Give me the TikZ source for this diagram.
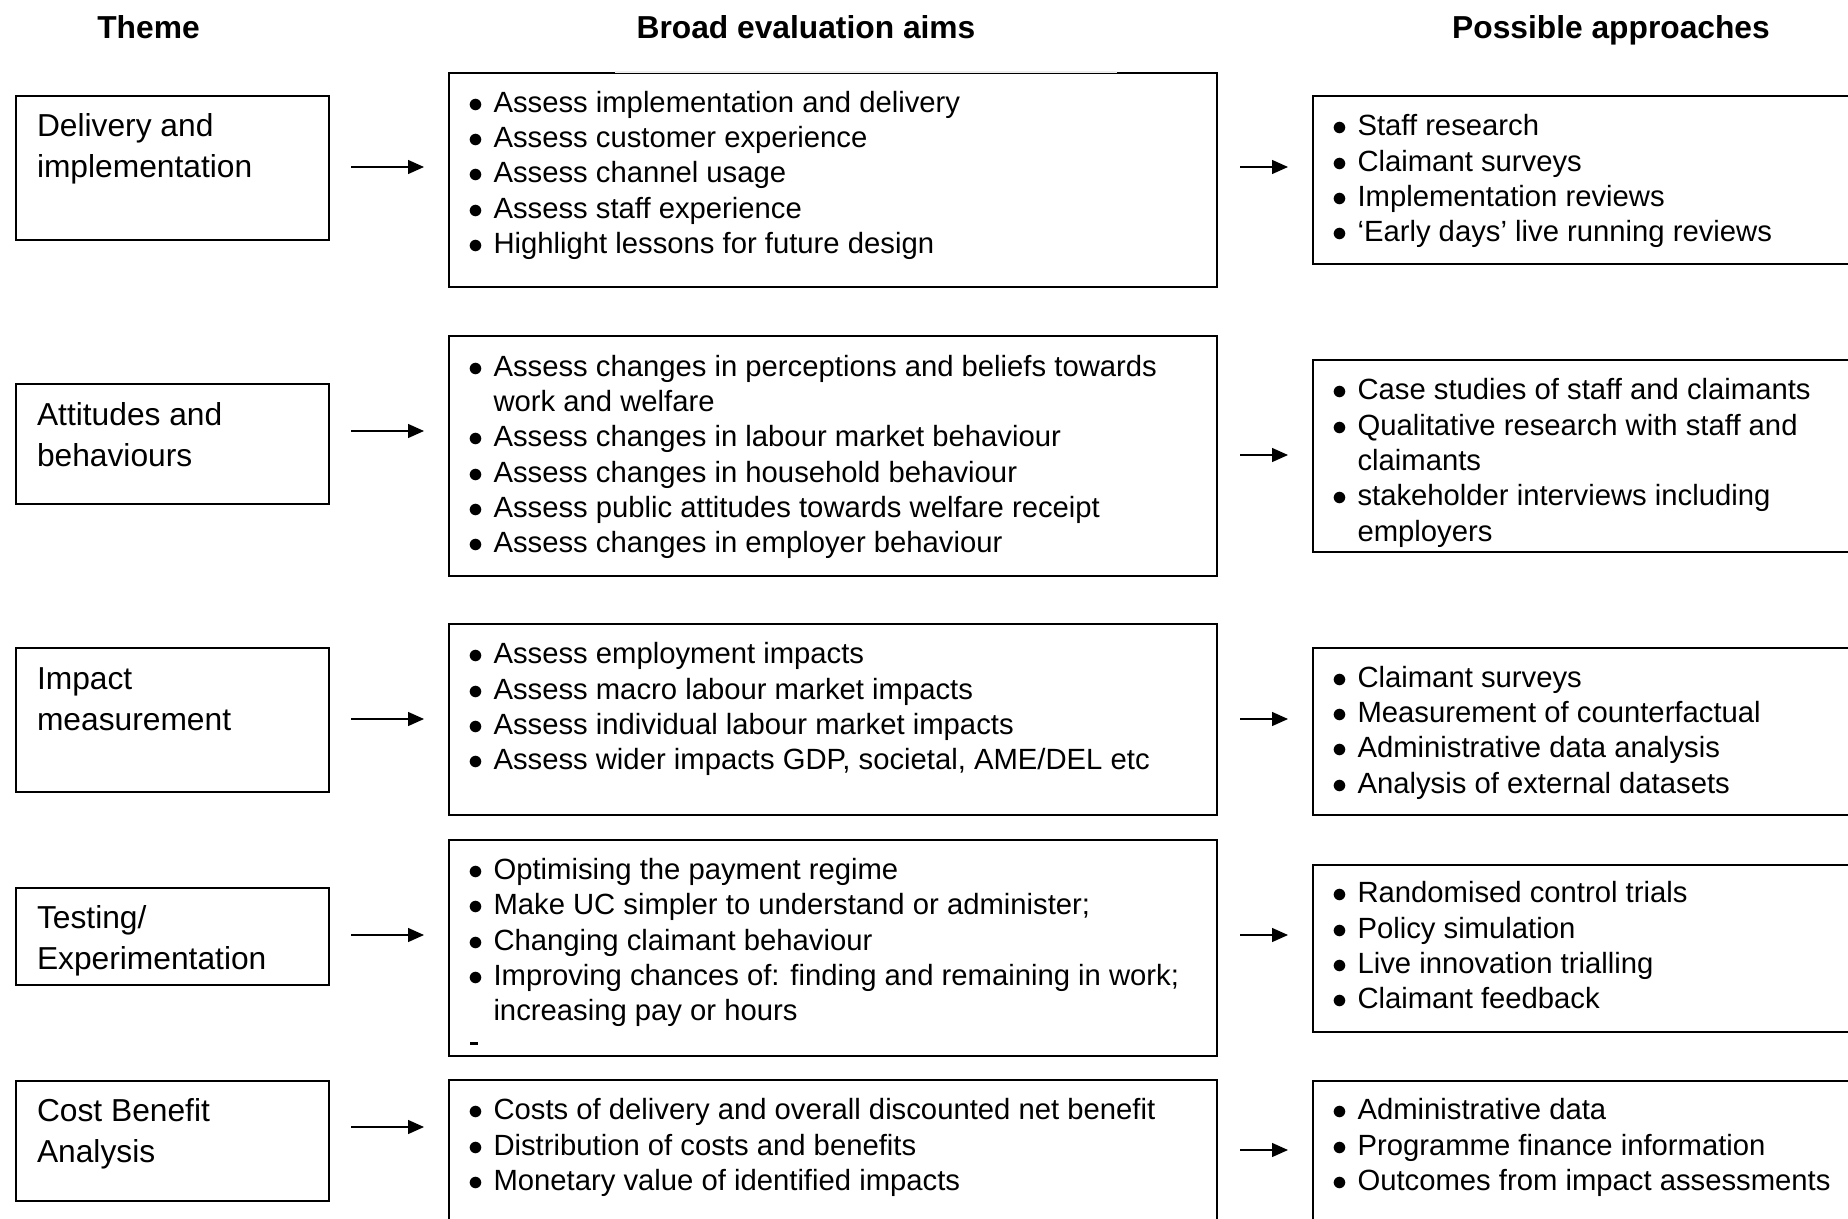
\documentclass[tikz,border=0pt]{standalone}
\usepackage{fontspec}
\setmainfont{Liberation Sans}
\usetikzlibrary{arrows.meta,positioning,calc}
\newcommand{\itm}{\makebox[10.2pt][l]{$\bullet$}}
\newcommand{\cnt}{\hspace*{10.2pt}}
\newcommand{\fstrut}{\rule{0pt}{10pt}}
\tikzset{
  frame/.style={draw=black, line width=0.8pt, anchor=north west, inner sep=0pt},
  themetxt/.style={anchor=north west, inner sep=0pt, align=left,
                   font=\fontsize{12.7pt}{16.5pt}\selectfont, execute at begin node={\fstrut}},
  listtxt/.style={anchor=north west, inner sep=0pt, align=left,
                  font=\fontsize{11.7pt}{14.15pt}\selectfont, execute at begin node={\fstrut}},
  head/.style={anchor=base, inner sep=0pt, font=\fontsize{12.7pt}{15pt}\selectfont\bfseries},
  flow/.style={-{Triangle[length=6.4pt,width=5.6pt]}, line width=0.55pt},
}

\begin{document}
\begin{tikzpicture}[x=0.4pt,y=-0.4pt]
  \useasboundingbox[fill=white] (0,0) rectangle (1848,1219);
  % --- column headings ---
  \node[head] (hTheme) at (148.5,38.4) {Theme};
  \node[head] (hAims)  at (806,38.4)   {Broad evaluation aims};
  \node[head] (hAppr)  at (1611,38.4)  {Possible approaches};

  % --- frames ---
  \foreach \i/\y/\h in {1/95/144,2/383/120,3/647/144,4/887/97,5/1080/120}
    \node[frame, minimum width={313*0.4pt}, minimum height={\h*0.4pt}] (theme\i) at (15,\y) {};
  \foreach \i/\y/\h in {1/72/214,2/335/240,3/623/191,4/839/216,5/1079/190}
    \node[frame, minimum width={768*0.4pt}, minimum height={\h*0.4pt}] (aim\i) at (448,\y) {};
  \foreach \i/\y/\h in {1/95/168,2/359/192,3/647/167,4/864/167,5/1080/190}
    \node[frame, minimum width={600*0.4pt}, minimum height={\h*0.4pt}] (appr\i) at (1312,\y) {};
  % broken top edge of the first aims frame
  \draw[black!7, line width=1pt] (615,72) -- (1117,72);

  % --- themes ---
  \node[themetxt] (themetxt1) at ([shift={(21.5,18)}]theme1.north west) {Delivery and\\implementation};
  \node[themetxt] (themetxt2) at ([shift={(21.5,19)}]theme2.north west) {Attitudes and\\behaviours};
  \node[themetxt] (themetxt3) at ([shift={(21.5,20)}]theme3.north west) {Impact\\measurement};
  \node[themetxt] (themetxt4) at ([shift={(21.5,18)}]theme4.north west) {Testing/\\Experimentation};
  \node[themetxt] (themetxt5) at ([shift={(21.5,18)}]theme5.north west) {Cost Benefit\\Analysis};

  % --- aims ---
  \node[listtxt] (aimtxt1) at ([shift={(19.5,18.5)}]aim1.north west)
    {\itm Assess implementation and delivery\\ \itm Assess customer experience\\
     \itm Assess channel usage\\ \itm Assess staff experience\\
     \itm Highlight lessons for future design};
  \node[listtxt] (aimtxt2) at ([shift={(19.5,19.4)}]aim2.north west)
    {\itm Assess changes in perceptions and beliefs towards\\ \cnt work and welfare\\
     \itm Assess changes in labour market behaviour\\ \itm Assess changes in household behaviour\\
     \itm Assess public attitudes towards welfare receipt\\ \itm Assess changes in employer behaviour};
  \node[listtxt] (aimtxt3) at ([shift={(19.5,19)}]aim3.north west)
    {\itm Assess employment impacts\\ \itm Assess macro labour market impacts\\
     \itm Assess individual labour market impacts\\ \itm Assess wider impacts GDP, societal, AME/DEL etc};
  \node[listtxt] (aimtxt4) at ([shift={(19.5,18.6)}]aim4.north west)
    {\itm Optimising the payment regime\\ \itm Make UC simpler to understand or administer;\\
     \itm Changing claimant behaviour\\ \itm Improving chances of: finding and remaining in work;\\
     \cnt increasing pay or hours};
  \fill (470,1042) rectangle (478,1045);
  \node[listtxt] (aimtxt5) at ([shift={(19.5,19)}]aim5.north west)
    {\itm Costs of delivery and overall discounted net benefit\\
     \itm Distribution of costs and benefits\\ \itm Monetary value of identified impacts};

  % --- approaches ---
  \node[listtxt] (apprtxt1) at ([shift={(19.5,19)}]appr1.north west)
    {\itm Staff research\\ \itm Claimant surveys\\ \itm Implementation reviews\\
     \itm ‘Early days’ live running reviews};
  \node[listtxt] (apprtxt2) at ([shift={(19.5,19)}]appr2.north west)
    {\itm Case studies of staff and claimants\\ \itm Qualitative research with staff and\\
     \cnt claimants\\ \itm stakeholder interviews including\\ \cnt employers};
  \node[listtxt] (apprtxt3) at ([shift={(19.5,18.5)}]appr3.north west)
    {\itm Claimant surveys\\ \itm Measurement of counterfactual\\
     \itm Administrative data analysis\\ \itm Analysis of external datasets};
  \node[listtxt] (apprtxt4) at ([shift={(19.5,17)}]appr4.north west)
    {\itm Randomised control trials\\ \itm Policy simulation\\
     \itm Live innovation trialling\\ \itm Claimant feedback};
  \node[listtxt] (apprtxt5) at ([shift={(19.5,18)}]appr5.north west)
    {\itm Administrative data\\ \itm Programme finance information\\
     \itm Outcomes from impact assessments};

  % --- arrows between columns ---
  \foreach \i/\ya/\yb in {1/167/167,2/431/455,3/719/719,4/935/935,5/1127/1150}{
    \coordinate (ls\i) at (351,\ya);
    \coordinate (le\i) at (424,\ya);
    \coordinate (rs\i) at (1240,\yb);
    \coordinate (re\i) at (1288,\yb);
    \draw[flow] (ls\i) -- (le\i);
    \draw[flow] (rs\i) -- (re\i);
  }
\end{tikzpicture}
\end{document}
